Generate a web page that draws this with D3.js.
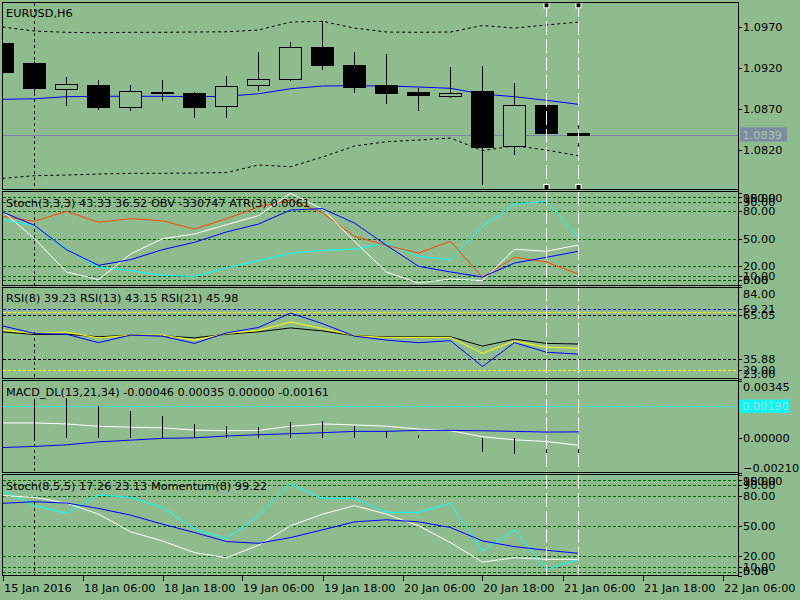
<!DOCTYPE html>
<html><head><meta charset="utf-8">
<script src="https://cdn.jsdelivr.net/npm/d3@7"></script>
<style>
body{margin:0;background:#8fbc8f}
svg{display:block}
text{font-family:"DejaVu Sans",sans-serif;font-size:11.3px;fill:#000}
</style>
</head><body>
<svg id="chart" width="800" height="600"></svg>
<script>
// ---------------- DATA ----------------
const barTimes = ["15 Jan 18:00","18 Jan 00:00","18 Jan 06:00","18 Jan 12:00","18 Jan 18:00","19 Jan 00:00","19 Jan 06:00","19 Jan 12:00","19 Jan 18:00","20 Jan 00:00","20 Jan 06:00","20 Jan 12:00","20 Jan 18:00","21 Jan 00:00","21 Jan 06:00","21 Jan 12:00","21 Jan 18:00","22 Jan 00:00","22 Jan 06:00"];
const open  = [1.09503,1.0926,1.0894,1.0899,1.0872,1.0890,1.0889,1.0874,1.0899,1.0907,1.0945,1.0924,1.0899,1.0891,1.0886,1.0892,1.0825,1.0875,1.08405];
const high  = [1.0955,1.0928,1.0909,1.0905,1.0899,1.0905,1.0891,1.0910,1.0939,1.0952,1.0977,1.0939,1.0937,1.0895,1.0921,1.0922,1.0902,1.0879,1.0864];
const low   = [1.0912,1.0888,1.0874,1.0869,1.0868,1.0880,1.0859,1.0859,1.0892,1.0904,1.0917,1.0890,1.0876,1.0867,1.0884,1.0778,1.0814,1.0830,1.0813];
const close = [1.09154,1.0895,1.0900,1.0873,1.0892,1.0891,1.0873,1.0898,1.0906,1.0946,1.0923,1.0897,1.0890,1.0887,1.0890,1.0824,1.0875,1.0841,1.0839];
const maLine  = [1.08818,1.08825,1.0885,1.08855,1.08855,1.08855,1.0885,1.08855,1.08886,1.08947,1.0898,1.08983,1.0898,1.08968,1.08952,1.08882,1.0885,1.08806,1.08757];
const bbUpper = [1.09698,1.09649,1.09633,1.09628,1.09633,1.09633,1.09637,1.09640,1.09661,1.09758,1.09767,1.09685,1.09637,1.09633,1.09637,1.09716,1.09685,1.09722,1.09758];
const bbLower = [1.07857,1.07889,1.07897,1.07909,1.07918,1.07918,1.07921,1.07927,1.08019,1.07998,1.08116,1.08250,1.08302,1.08323,1.08347,1.08193,1.08254,1.08201,1.08132];
const bidPrice = 1.0839;
const priceTicks = [1.0970,1.0920,1.0870,1.0820];

const stochMain   = [79.8,50.1,14,5.7,33.5,50.1,55.2,65.3,75.1,99.3,82.3,47.3,14,2,6.4,4.6,38.6,36.4,43.33];
const stochSignal = [79.1,64.6,38.2,21.2,27.4,38.2,46.2,57.4,66,81.2,82.7,67.1,42.9,20.2,14,8.6,23.7,29.9,36.52];
const obvLine     = [70.7,64.2,38.9,19.1,15.4,10.4,9.3,18.3,26.2,34.3,37.5,38.9,45.1,31,27.4,63.5,87.7,90.7,51.6];
const atrLine     = [74.4,69,79.8,67.9,71.8,69.6,60.6,71.8,84.5,92.1,78,52.7,42.9,34.6,47.3,8.2,29.9,24.8,11.8];
const stochLevels = [95,90,80,50,20,10,5];
const stochLabels = [100,95,90,80,50,20,10,5,0];

const rsi8  = [58.1,53,52.5,46.9,51.9,51.2,46.4,53.4,57,66.6,59.6,51.2,48.6,46.9,48.2,31,46.9,40.5,39.23];
const rsi13 = [55.2,53,53.9,50.1,51.9,51.9,48.6,53,55,60.7,56.3,51.5,50.4,50.4,50.4,39.8,47.9,43.8,43.15];
const rsi21 = [54.1,52.3,52.5,50.8,51.9,51.5,50.1,52.5,54.1,56.7,54.7,51.5,50.8,50.8,50.8,44.6,49.2,46.4,45.98];
const rsiLevels = [69.21,67.13,65.05,35.88,29.00];
const rsiLabels = [84.00,69.21,65.05,35.88,29.00,23.00];

const macdMain   = [0.00089,0.00089,0.00083,0.00069,0.00063,0.00059,0.00046,0.00042,0.00044,0.00069,0.00083,0.00077,0.00069,0.00052,0.00042,0.00006,-0.00013,-0.00023,-0.00046];
const macdSignal = [-0.00059,-0.00053,-0.00043,-0.00025,-0.00015,-0.00004,-0.00001,0.0001,0.00018,0.00024,0.0003,0.00038,0.00038,0.00044,0.00044,0.00042,0.00038,0.00034,0.00035];
const macdHist   = [0.00221,0.00231,0.00237,0.00191,0.0016,0.0013,0.00083,0.00069,0.00063,0.00095,0.00099,0.00069,0.00038,0.00018,0.00001,-0.00088,-0.001,-0.00135,-0.00161];
const macdLevel  = 0.00190;
const macdLabels = [0.00345,0.00000,-0.00210];

const stoch2Main   = [79.9,78.2,72.6,61.7,44.3,35.3,23.8,18.8,31,50.2,61.7,70,61.7,50.2,33.7,14.5,18.8,17.2,17.26];
const stoch2Signal = [72.3,73.9,72.6,67.3,60.7,51.8,43.6,34.7,33,38.6,46.2,54.1,56.1,54.1,48.5,35.3,29.7,26.1,23.13];
const momentum     = [84.8,70,62.7,80.5,78.2,68.3,46.8,37.6,60.1,91.4,77.2,77.2,63.4,63.4,72.6,25.4,46.2,7.2,17.1];

const timeTickAt     = [0,2.5,5,7.5,10,12.5,15,17.5,20,22.5];
const timeTickLabels = ["15 Jan 2016","18 Jan 06:00","18 Jan 18:00","19 Jan 06:00","19 Jan 18:00","20 Jan 06:00","20 Jan 18:00","21 Jan 06:00","21 Jan 18:00","22 Jan 06:00"];
const separatorBar = 1;
const vlineBars = [17,18];

// ---------------- LAYOUT ----------------
const BG = "#8fbc8f", LEVEL_GREEN = "#006400";
const L = 2.5, R = 738;
const svg = d3.select("#chart");
const x = d3.scaleLinear().domain([0,22.5]).range([2.5,722.5]);
const idx = barTimes.map((t,i)=>i);

const panels = [
  {id:"main", top:2.5, bottom:189.5, sepStart:2.5},
  {id:"st1", top:191.5, bottom:285, sepStart:211},
  {id:"rsi", top:287, bottom:378.5, sepStart:332},
  {id:"macd", top:380.5, bottom:472.5, sepStart:438},
  {id:"st2", top:474.5, bottom:575.5, sepStart:502}
];
const P = Object.fromEntries(panels.map(p=>[p.id,p]));
P.main.y = d3.scaleLinear().domain([1.07721,1.09996]).range([189.5,2.5]);
P.st1.y  = d3.scaleLinear().domain([0,100]).range([284.9,192.7]);
P.rsi.y  = d3.scaleLinear().domain([23,84]).range([378.5,287]);
P.macd.y = d3.scaleLinear().domain([-0.0021,0.00345]).range([472.5,380.5]);
P.st2.y  = d3.scaleLinear().domain([0,100]).range([576.8,475.2]);

const defs = svg.append("defs");
panels.forEach(p=>{
  defs.append("clipPath").attr("id","clip-"+p.id)
    .append("rect").attr("x",L).attr("y",p.top).attr("width",R-L).attr("height",p.bottom-p.top);
  p.g = svg.append("g").attr("clip-path","url(#clip-"+p.id+")");
});

function levelLine(p, v, color){
  const yy = Math.round(p.y(v))+0.5;
  p.g.append("line").attr("x1",L).attr("x2",R).attr("y1",yy).attr("y2",yy)
    .attr("stroke",color).attr("stroke-dasharray","3,2").attr("shape-rendering","crispEdges");
}
function series(p, data, color){
  p.g.append("path").datum(data)
    .attr("d", d3.line().x((d,i)=>x(idx[i])).y(d=>p.y(d)))
    .attr("fill","none").attr("stroke",color).attr("stroke-width",1);
}
function axisLabel(p, v, fmt){
  const yv = p.y(v);
  const ty = Math.round(Math.max(p.top, Math.min(p.bottom, yv)))+0.5;
  svg.append("line").attr("x1",R).attr("x2",R+4).attr("y1",ty).attr("y2",ty)
    .attr("stroke","#000").attr("shape-rendering","crispEdges");
  const ly = Math.max(p.top+6.5, Math.min(p.bottom-5, yv));
  svg.append("text").attr("x",R+5).attr("y",ly+4).text(fmt(v));
}

// period separator
panels.forEach(p=>{
  p.g.append("line").attr("x1",x(separatorBar)).attr("x2",x(separatorBar))
    .attr("y1",p.sepStart).attr("y2",p.bottom).attr("stroke","#000")
    .attr("stroke-dasharray","3,3").attr("shape-rendering","crispEdges");
});

// ---------- MAIN ----------
{
  const p = P.main, y = p.y;
  const by = Math.round(y(bidPrice))+0.5;
  p.g.append("line").attr("x1",L).attr("x2",R).attr("y1",by).attr("y2",by)
    .attr("stroke","#7884ad").attr("shape-rendering","crispEdges");
  const bandLine = d3.line().x((d,i)=>x(idx[i])).y(d=>y(d));
  [bbUpper,bbLower].forEach(b=>p.g.append("path").datum(b).attr("d",bandLine)
    .attr("fill","none").attr("stroke","#000").attr("stroke-dasharray","3,3"));
  p.g.append("path").datum(maLine).attr("d",bandLine).attr("fill","none").attr("stroke","#0000ff");
  const cg = p.g.append("g").attr("shape-rendering","crispEdges");
  idx.forEach(i=>{
    const cx = x(i);
    cg.append("line").attr("x1",cx).attr("x2",cx).attr("y1",y(high[i])).attr("y2",y(low[i])).attr("stroke","#000");
    const yTop = Math.round(y(Math.max(open[i],close[i])))+0.5;
    const yBot = Math.round(y(Math.min(open[i],close[i])))+0.5;
    const bull = close[i] > open[i];
    cg.append("rect").attr("x",cx-11).attr("y",yTop).attr("width",22).attr("height",Math.max(1,yBot-yTop))
      .attr("fill", bull?BG:"#000").attr("stroke","#000");
  });
  priceTicks.forEach(v=>axisLabel(p,v,d3.format(".4f")));
  const bc = y(bidPrice);
  svg.append("rect").attr("x",740).attr("y",bc-7).attr("width",47).attr("height",14).attr("fill","#7b8ca3");
  svg.append("text").attr("x",742.5).attr("y",bc+4).style("fill","#a9c7a5").text(d3.format(".4f")(bidPrice));
}

// ---------- STOCH 1 ----------
{
  const p = P.st1;
  stochLevels.forEach(v=>levelLine(p,v,LEVEL_GREEN));
  series(p, obvLine, "#00ffff");
  series(p, atrLine, "#ff4500");
  series(p, stochMain, "#ffffff");
  series(p, stochSignal, "#0000ff");
  stochLabels.forEach(v=>axisLabel(p,v,d3.format(".2f")));
}

// ---------- RSI ----------
{
  const p = P.rsi;
  const cols = ["#0000ff","#ffff00","#000000","#000000","#ffff00"];
  rsiLevels.forEach((v,i)=>levelLine(p,v,cols[i]));
  series(p, rsi21, "#000000");
  series(p, rsi13, "#ffff00");
  series(p, rsi8, "#0000ff");
  rsiLabels.forEach(v=>axisLabel(p,v,d3.format(".2f")));
}

// ---------- MACD ----------
{
  const p = P.macd, y = p.y;
  levelLine(p, macdLevel, "#00ffff");
  series(p, macdMain, "#ffffff");
  series(p, macdSignal, "#0000ff");
  p.g.append("g").attr("shape-rendering","crispEdges").selectAll("line").data(macdHist).join("line")
    .attr("x1",(d,i)=>x(idx[i])).attr("x2",(d,i)=>x(idx[i]))
    .attr("y1",y(0)).attr("y2",d=>y(d)).attr("stroke","#000");
  macdLabels.forEach(v=>axisLabel(p,v,d3.format(".5f")));
  const lc = y(macdLevel);
  svg.append("rect").attr("x",740).attr("y",lc-6.5).attr("width",49).attr("height",13).attr("fill","#00ffff");
  svg.append("text").attr("x",742).attr("y",lc+4).style("fill","#a8d8c8").text(d3.format(".5f")(macdLevel));
}

// ---------- STOCH 2 ----------
{
  const p = P.st2;
  stochLevels.forEach(v=>levelLine(p,v,LEVEL_GREEN));
  series(p, momentum, "#00ffff");
  series(p, stoch2Main, "#ffffff");
  series(p, stoch2Signal, "#0000ff");
  stochLabels.forEach(v=>axisLabel(p,v,d3.format(".2f")));
}

// white dashed vertical lines
panels.forEach(p=>{
  vlineBars.forEach(b=>{
    p.g.append("line").attr("x1",x(b)).attr("x2",x(b)).attr("y1",p.top).attr("y2",p.bottom)
      .attr("stroke","#fff").attr("stroke-dasharray","14,4").attr("shape-rendering","crispEdges");
  });
});
// selection handles
vlineBars.forEach(b=>{
  [5.3,187].forEach(hy=>{
    svg.append("rect").attr("x",x(b)-3).attr("y",hy-3).attr("width",6).attr("height",6).attr("fill","#fff");
    svg.append("rect").attr("x",x(b)-2).attr("y",hy-2).attr("width",4).attr("height",4).attr("fill","#000");
  });
});

// panel borders
panels.forEach(p=>{
  svg.append("rect").attr("x",L).attr("y",p.top).attr("width",R-L).attr("height",p.bottom-p.top)
    .attr("fill","none").attr("stroke","#000").attr("shape-rendering","crispEdges");
});
svg.append("line").attr("x1",R).attr("x2",R).attr("y1",2.5).attr("y2",575.5).attr("stroke","#000").attr("shape-rendering","crispEdges");

// headers
const headers = [
  ["main","EURUSD,H6"],
  ["st1","Stoch(3,3,3) 43.33 36.52 OBV -330747 ATR(3) 0.0061"],
  ["rsi","RSI(8) 39.23 RSI(13) 43.15 RSI(21) 45.98"],
  ["macd","MACD_DL(13,21,34) -0.00046 0.00035 0.00000 -0.00161"],
  ["st2","Stoch(8,5,5) 17.26 23.13 Momentum(8) 99.22"]
];
const hOff = {main:14, st1:15.5, rsi:15, macd:15.5, st2:15.5};
headers.forEach(([id,t])=>{
  svg.append("text").attr("x",6).attr("y",P[id].top+hOff[id]).text(t);
});

// time axis
timeTickAt.forEach((t,i)=>{
  const tx = Math.round(x(t))+0.5;
  svg.append("line").attr("x1",tx).attr("x2",tx).attr("y1",575.5).attr("y2",580.5)
    .attr("stroke","#000").attr("shape-rendering","crispEdges");
  svg.append("text").attr("x",tx+0.5).attr("y",591.5).text(timeTickLabels[i]);
});
</script>
</body></html>
